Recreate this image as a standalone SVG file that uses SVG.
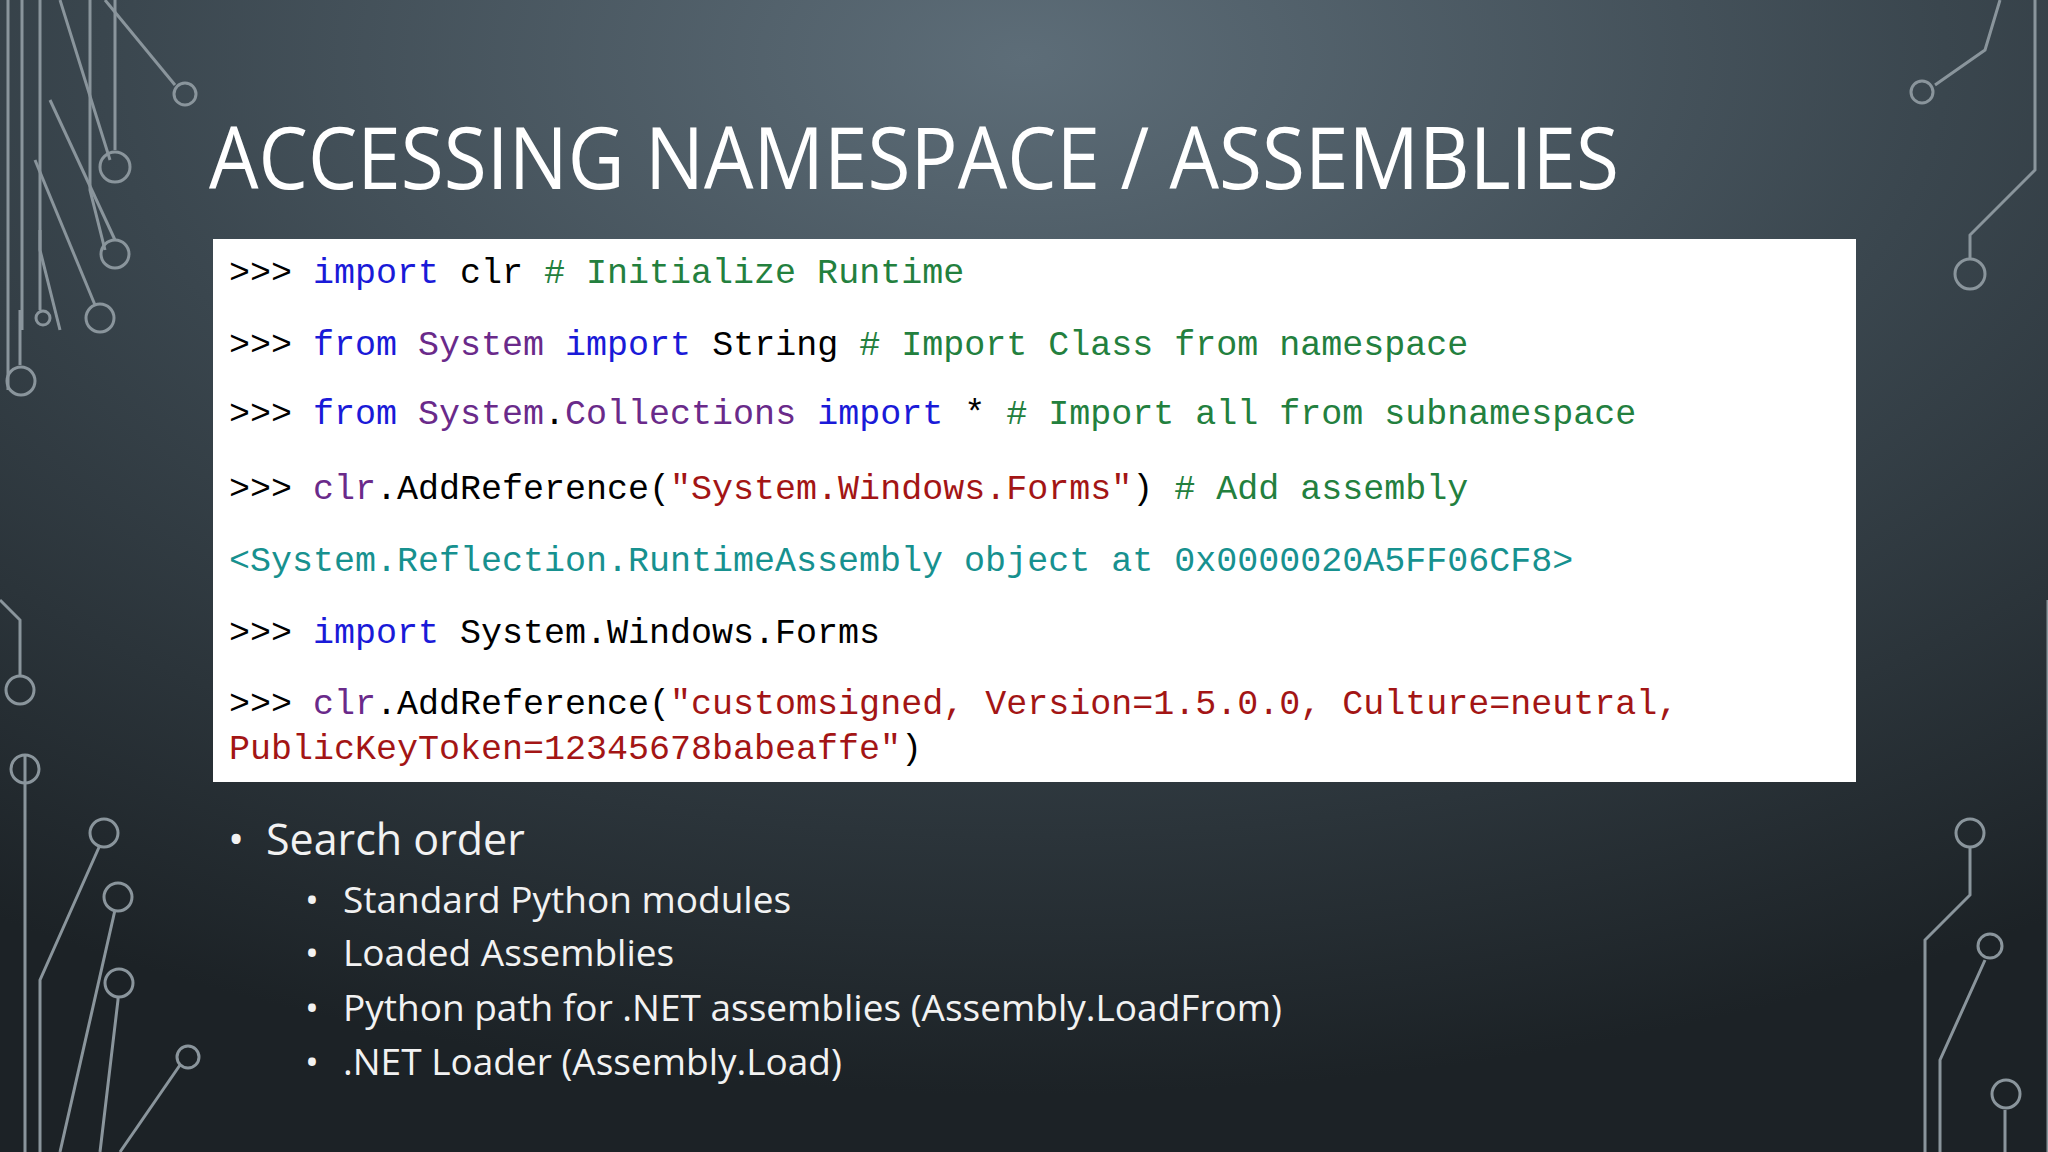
<svg xmlns="http://www.w3.org/2000/svg" width="2048" height="1152" viewBox="0 0 2048 1152">
<defs>
<radialGradient id="bg" cx="0.5" cy="0.05" r="0.9">
<stop offset="0" stop-color="#5d6d78"/>
<stop offset="0.5" stop-color="#3a464e"/>
<stop offset="1" stop-color="#1c2226"/>
</radialGradient>
<style>
.c{font-family:"Liberation Mono",monospace;font-size:35px;fill:#000}
.k{fill:#1a1ad8}.s{fill:#6a2a8a}.g{fill:#23803e}.r{fill:#a31515}.t{fill:#17918f}
.dec{fill:none;stroke:#8a959c;stroke-width:3}
.b{font-family:"Open Sans",sans-serif;fill:#f2f2f2}
</style>
</defs>
<rect width="2048" height="1152" fill="url(#bg)"/>
<g id="decor" class="dec">
<path d="M8 0V390"/><path d="M22 0V330"/><path d="M40 0V250L60 330"/><path d="M60 0L110 160"/><path d="M90 0V190L105 250"/><path d="M105 0L175 85"/><circle cx="185" cy="94" r="11"/>
<path d="M115 0V150"/><circle cx="115" cy="167" r="15"/><path d="M50 100L115 240"/><circle cx="115" cy="254" r="14"/><path d="M35 160L95 305"/><circle cx="100" cy="318" r="14"/>
<path d="M40 230V310"/><circle cx="43" cy="318" r="7"/><path d="M20 310L20 365"/><circle cx="21" cy="381" r="14"/>
<path d="M0 600L20 620V675"/><circle cx="20" cy="690" r="14"/><path d="M25 755V1152"/><circle cx="25" cy="769" r="14"/>
<path d="M40 1152V980L100 845"/><circle cx="104" cy="833" r="14"/><path d="M60 1152L115 910"/><circle cx="118" cy="897" r="14"/><path d="M100 1152L118 1000V998"/><circle cx="119" cy="983" r="14"/><path d="M120 1152L180 1065"/><circle cx="188" cy="1057" r="11"/>
<path d="M2000 0L1985 50L1935 85"/><circle cx="1922" cy="92" r="11"/><path d="M2035 0V170L1970 235V258"/><circle cx="1970" cy="274" r="15"/>
<path d="M2048 600V1152"/><path d="M1925 1152V940L1970 895V848"/><circle cx="1970" cy="833" r="14"/><path d="M1940 1152V1060L1985 960V960"/><circle cx="1990" cy="946" r="12"/><path d="M2005 1152V1110"/><circle cx="2006" cy="1094" r="14"/>
</g>
<text id="title" x="209" y="189" font-family="Open Sans,sans-serif" font-size="86" fill="#ffffff" textLength="1410" lengthAdjust="spacingAndGlyphs">ACCESSING NAMESPACE / ASSEMBLIES</text>
<g id="code">
<rect x="213" y="239" width="1643" height="543" fill="#ffffff"/>
<text class="c" x="229" y="283" xml:space="preserve">&gt;&gt;&gt; <tspan class="k">import</tspan> clr <tspan class="g"># Initialize Runtime</tspan></text>
<text class="c" x="229" y="355" xml:space="preserve">&gt;&gt;&gt; <tspan class="k">from</tspan> <tspan class="s">System</tspan> <tspan class="k">import</tspan> String <tspan class="g"># Import Class from namespace</tspan></text>
<text class="c" x="229" y="424" xml:space="preserve">&gt;&gt;&gt; <tspan class="k">from</tspan> <tspan class="s">System</tspan>.<tspan class="s">Collections</tspan> <tspan class="k">import</tspan> * <tspan class="g"># Import all from subnamespace</tspan></text>
<text class="c" x="229" y="499" xml:space="preserve">&gt;&gt;&gt; <tspan class="s">clr</tspan>.AddReference(<tspan class="r">"System.Windows.Forms"</tspan>) <tspan class="g"># Add assembly</tspan></text>
<text class="c t" x="229" y="571">&lt;System.Reflection.RuntimeAssembly object at 0x0000020A5FF06CF8&gt;</text>
<text class="c" x="229" y="643" xml:space="preserve">&gt;&gt;&gt; <tspan class="k">import</tspan> System.Windows.Forms</text>
<text class="c" x="229" y="714" xml:space="preserve">&gt;&gt;&gt; <tspan class="s">clr</tspan>.AddReference(<tspan class="r">"customsigned, Version=1.5.0.0, Culture=neutral,</tspan></text>
<text class="c" x="229" y="759"><tspan class="r">PublicKeyToken=12345678babeaffe"</tspan>)</text>
</g>
<g id="bullets">
<text class="b" x="228" y="855" font-size="43">•</text>
<text class="b" x="266" y="855" font-size="43">Search order</text>
<g font-size="37">
<text class="b" x="305" y="913">•</text><text class="b" x="343" y="913">Standard Python modules</text>
<text class="b" x="305" y="966">•</text><text class="b" x="343" y="966">Loaded Assemblies</text>
<text class="b" x="305" y="1021">•</text><text class="b" x="343" y="1021">Python path for .NET assemblies (Assembly.LoadFrom)</text>
<text class="b" x="305" y="1075">•</text><text class="b" x="343" y="1075">.NET Loader (Assembly.Load)</text>
</g>
</g>
</svg>
